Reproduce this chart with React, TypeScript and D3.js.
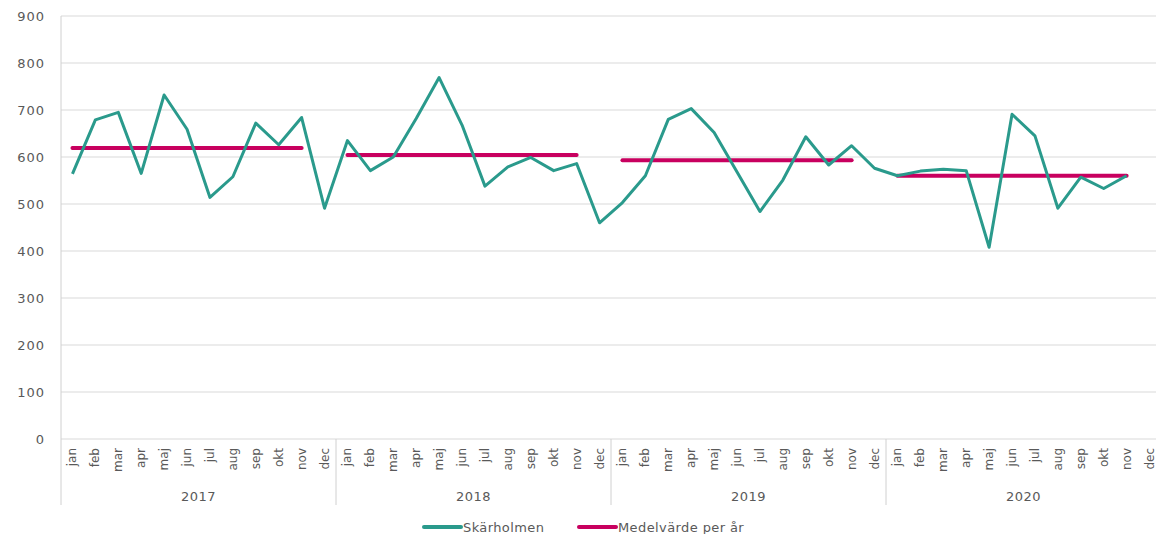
import React from "react";
import * as d3 from "d3";

const years = ["2017", "2018", "2019", "2020"];
const months = ["jan", "feb", "mar", "apr", "maj", "jun", "jul", "aug", "sep", "okt", "nov", "dec"];
const yTicks = [0, 100, 200, 300, 400, 500, 600, 700, 800, 900];

// Skärholmen, per month (2020 dec missing)
const skarholmen: (number | null)[] = [
  564, 679, 695, 565, 732, 659, 514, 558, 672, 626, 684, 491,
  635, 571, 600, 682, 769, 668, 538, 579, 599, 571, 586, 460,
  503, 560, 680, 703, 652, 568, 484, 551, 643, 583, 624, 576,
  560, 570, 574, 571, 408, 691, 645, 491, 557, 533, 560, null,
];
// Medelvärde per år
const yearMeans = [619, 604, 593, 560];

const W = 1156;
const H = 534;
const left = 61;
const right = 1161;
const top = 16;
const bottom = 439;

function App() {
  const keys = years.flatMap((y) => months.map((m) => `${y}-${m}`));
  const x = d3.scaleBand().domain(keys).range([left, right]);
  const y = d3.scaleLinear().domain([0, 900]).range([bottom, top]);
  const cx = (k: string) => (x(k) ?? 0) + x.bandwidth() / 2;

  const line = d3
    .line<number | null>()
    .defined((d) => d != null)
    .x((_, i) => cx(keys[i]))
    .y((d) => y(d as number));

  const font = "'DejaVu Sans', sans-serif";
  const grey = "#595959";
  const teal = "#2a9a8c";
  const magenta = "#c8005f";

  return (
    <svg width={W} height={H} style={{ position: "absolute", left: 0, top: 0 }} fontFamily={font}>
      {yTicks.map((t) => (
        <g key={t}>
          <line x1={left} x2={W} y1={y(t)} y2={y(t)} stroke="#d9d9d9" strokeWidth={1} />
          <text x={45} y={y(t)} dy="0.35em" textAnchor="end" fontSize={13} letterSpacing={1} fill={grey}>
            {t}
          </text>
        </g>
      ))}
      <line x1={left} x2={left} y1={top} y2={505} stroke="#d0d0d0" />
      {years.map((yr, i) => {
        const x0 = x(`${yr}-jan`) ?? 0;
        const x1 = (x(`${yr}-dec`) ?? 0) + x.bandwidth();
        return (
          <g key={yr}>
            {i > 0 && <line x1={x0} x2={x0} y1={bottom} y2={505} stroke="#d0d0d0" />}
            <text x={(x0 + x1) / 2} y={501} textAnchor="middle" fontSize={13} letterSpacing={0.5} fill={grey}>
              {yr}
            </text>
          </g>
        );
      })}
      {keys.map((k, i) => (
        <text
          key={k}
          transform={`translate(${cx(k) + 4},${bottom + 9}) rotate(-90)`}
          textAnchor="end"
          fontSize={12}
          fill={grey}
        >
          {months[i % 12]}
        </text>
      ))}
      {yearMeans.map((v, i) => (
        <line
          key={i}
          x1={cx(`${years[i]}-jan`)}
          x2={cx(`${years[i]}-nov`)}
          y1={y(v)}
          y2={y(v)}
          stroke={magenta}
          strokeWidth={4}
          strokeLinecap="round"
        />
      ))}
      <path d={line(skarholmen) ?? ""} fill="none" stroke={teal} strokeWidth={3} strokeLinejoin="round" />
      <g fontSize={13} fill={grey} letterSpacing={0.4}>
        <line x1={424} x2={461} y1={527} y2={527} stroke={teal} strokeWidth={4} strokeLinecap="round" />
        <text x={463} y={527} dy="0.35em">Skärholmen</text>
        <line x1={579} x2={616} y1={527} y2={527} stroke={magenta} strokeWidth={4} strokeLinecap="round" />
        <text x={618} y={527} dy="0.35em">Medelvärde per år</text>
      </g>
    </svg>
  );
}

export default App;
